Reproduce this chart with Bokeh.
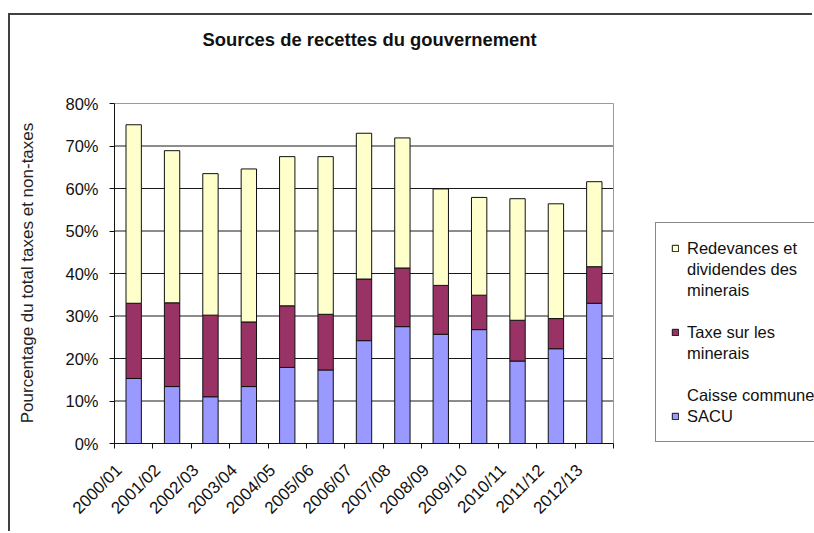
import math
from bokeh.plotting import figure
from bokeh.models import (Range1d, FixedTicker, Legend, LegendItem, Title,
                          CustomJSTickFormatter, ColumnDataSource)
from bokeh.embed import file_html
from bokeh.resources import INLINE

# ---------------- data ----------------
years = ["2000/01", "2001/02", "2002/03", "2003/04", "2004/05", "2005/06", "2006/07",
         "2007/08", "2008/09", "2009/10", "2010/11", "2011/12", "2012/13"]
sacu = [15.3, 13.4, 11.0, 13.4, 17.9, 17.3, 24.2, 27.5, 25.7, 26.8, 19.4, 22.3, 33.0]
taxe = [17.7, 19.7, 19.2, 15.2, 14.5, 13.1, 14.5, 13.8, 11.5, 8.1, 9.6, 7.1, 8.6]
redev = [42.0, 35.8, 33.3, 36.0, 35.1, 37.1, 34.3, 30.6, 22.7, 23.0, 28.6, 27.0, 20.0]
y_ticks = [0, 10, 20, 30, 40, 50, 60, 70, 80]
y_tick_labels = [f"{t}%" for t in y_ticks]
legend_redev = ["Redevances et", "dividendes des", "minerais"]
legend_taxe = ["Taxe sur les", "minerais"]
legend_sacu = ["Caisse commune", "SACU"]
title_text = "Sources de recettes du gouvernement"
y_title = "Pourcentage du total taxes et non-taxes"

# ---------------- style / layout ----------------
C_SACU, C_TAXE, C_REDEV = "#9999FF", "#993366", "#FFFFCC"
FONT = "Liberation Sans"
OX, OY = 10, 15                       # canvas offset in page (outer frame border)
W, H = 814 - OX, 533 - OY
PL, PR, PT, PB = 114, 613, 103, 443   # plot area in page px
FT_PAGE = PT - 1                      # frame top one px above plot area top
n = len(years)
ymax = y_ticks[-1]
x_end = n * (814 - PL) / (PR - PL)    # frame runs to the canvas right edge
y_end = ymax * (PB - FT_PAGE) / (PB - PT)

p = figure(width=W, height=H, x_range=Range1d(0, x_end), y_range=Range1d(0, y_end),
           output_backend="svg", toolbar_location=None,
           min_border_left=PL - OX, min_border_right=0, min_border_top=FT_PAGE - OY,
           min_border_bottom=533 - PB,
           styles={"margin-left": "8px", "margin-top": "13px",
                   "border-left": "2px solid #404040", "border-top": "2px solid #404040"})
p.background_fill_color = "white"
p.border_fill_color = "white"
p.outline_line_color = None
p.xgrid.visible = False
p.ygrid.visible = False

# title: an invisible spacer next to the frame, then the title above it
p.add_layout(Title(text=" ", text_font_size="1px", standoff=50), "above")
p.add_layout(Title(text=title_text, align="left", offset=202 - PL, standoff=0,
                   text_font=FONT, text_font_style="bold", text_font_size="18.4px",
                   text_color="#111111"), "above")

# horizontal gridlines and plot-area border
grid_y = y_ticks[1:-1]
p.segment(x0=[0] * len(grid_y), x1=[n] * len(grid_y), y0=grid_y, y1=grid_y,
          line_color="#1a1a1a", line_width=1)
p.quad(left=[0], right=[n], bottom=[0], top=[ymax], fill_alpha=0,
       line_color="#9a9a9a", line_width=1)

xs = [i + 0.5 for i in range(n)]
src = ColumnDataSource(dict(x=xs, sacu=sacu, taxe=taxe, redev=redev))
r_sacu, r_taxe, r_redev = p.vbar_stack(["sacu", "taxe", "redev"], x="x", width=0.4, source=src,
                                       fill_color=[C_SACU, C_TAXE, C_REDEV],
                                       line_color="#111111", line_width=1)
r_blank = p.vbar(x=[], top=[], width=0.4, fill_alpha=0, line_alpha=0)

# y axis
yax = p.yaxis[0]
yax.bounds = (0, ymax)
yax.ticker = FixedTicker(ticks=y_ticks)
yax.major_label_overrides = {t: l for t, l in zip(y_ticks, y_tick_labels)}
yax.major_label_text_font = FONT
yax.major_label_text_font_size = "16.5px"
yax.major_label_text_color = "#111111"
yax.major_label_standoff = 11
yax.major_tick_out = 5
yax.major_tick_in = 0
yax.minor_tick_out = 0
yax.minor_tick_in = 0
yax.axis_line_color = "#111111"
yax.major_tick_line_color = "#111111"
yax.axis_label = y_title
yax.axis_label_text_font = FONT
yax.axis_label_text_font_style = "normal"
yax.axis_label_text_font_size = "17px"
yax.axis_label_text_color = "#222222"
yax.axis_label_standoff = 25

# x axis
xax = p.xaxis[0]
xax.bounds = (0, n)
xax.ticker = FixedTicker(ticks=[x - 0.38 for x in xs], minor_ticks=list(range(n + 1)))
xax.formatter = CustomJSTickFormatter(args=dict(labels=years),
                                      code="return labels[Math.floor(tick + 0.5)];")
xax.major_label_orientation = math.pi / 4
xax.major_label_text_font = FONT
xax.major_label_text_font_size = "17px"
xax.major_label_text_color = "#111111"
xax.major_tick_out = 0
xax.major_tick_in = 0
xax.minor_tick_out = 5
xax.minor_tick_in = 0
xax.minor_tick_line_color = "#111111"
xax.axis_line_color = "#111111"
xax.major_label_standoff = 19

# legend (one row per text line)
items = []
for k, line in enumerate(legend_redev):
    items.append(LegendItem(label=line, renderers=[r_redev if k == 0 else r_blank]))
items.append(LegendItem(label=" ", renderers=[r_blank]))
for k, line in enumerate(legend_taxe):
    items.append(LegendItem(label=line, renderers=[r_taxe if k == 0 else r_blank]))
items.append(LegendItem(label=" ", renderers=[r_blank]))
for k, line in enumerate(legend_sacu):
    items.append(LegendItem(label=line, renderers=[r_sacu if k == 1 else r_blank]))

leg = Legend(items=items, location=(655 - PL, 1),
             orientation="vertical", margin=0, padding=15, spacing=1,
             glyph_width=8, glyph_height=8, label_height=20, label_standoff=8,
             label_text_font=FONT, label_text_font_size="16.5px",
             label_text_color="#111111", border_line_color="#111111",
             border_line_width=1, background_fill_color="white", background_fill_alpha=1)
p.add_layout(leg)

open("out.html", "w").write(file_html(p, INLINE))
